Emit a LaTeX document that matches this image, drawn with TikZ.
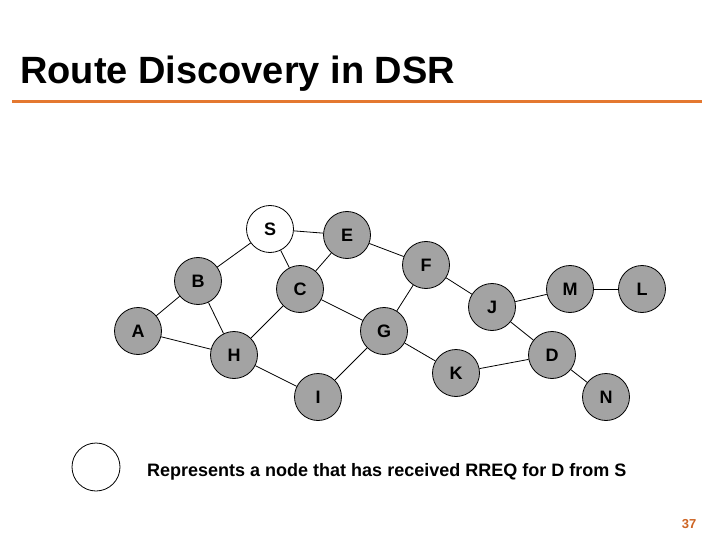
\documentclass[tikz,border=0pt]{standalone}
\usepackage{fontspec}
\setmainfont{Liberation Sans}
\usepackage{tikz}
\usetikzlibrary{positioning}
\definecolor{cnoeud}{gray}{0.64}
\definecolor{corange}{RGB}{228,120,48}
\definecolor{cpage}{RGB}{205,100,35}

\begin{document}
\begin{tikzpicture}[x=1pt, y=-1pt,
    nd/.style={circle, draw, line width=0.8pt, fill=cnoeud, minimum size=47pt, inner sep=0pt,
      font=\fontsize{18}{20}\selectfont\bfseries},
    vu/.style={nd, fill=white},
    lien/.style={line width=0.8pt}]
  \useasboundingbox (0,0) rectangle (720,540);

  % --- titre ---
  \node[font=\fontsize{38}{40}\selectfont\bfseries, anchor=base west, inner sep=0pt] (titre) at (20,84) {Route Discovery in DSR};
  \coordinate (r1) at (12,102);
  \coordinate (r2) at (702,102);
  \draw[corange, line width=3pt] (r1) -- (r2);

  % --- noeuds ---
  \node[vu] (S) at (270,229) {S};
  \node[nd] (E) at (347,235) {E};
  \node[nd] (B) at (198,281) {B};
  \node[nd] (C) at (300,289) {C};
  \node[nd] (F) at (426,265) {F};
  \node[nd] (A) at (138,331) {A};
  \node[nd] (H) at (234,355) {H};
  \node[nd] (G) at (384,331) {G};
  \node[nd] (K) at (456,373) {K};
  \node[nd] (I) at (318,397) {I};
  \node[nd] (J) at (492,307) {J};
  \node[nd] (M) at (570,289) {M};
  \node[nd] (L) at (642,289) {L};
  \node[nd] (D) at (552,355) {D};
  \node[nd] (N) at (606,397) {N};

  % --- liens ---
  \draw[lien] (S) -- (E);
  \draw[lien] (S) -- (B);
  \draw[lien] (S) -- (C);
  \draw[lien] (E) -- (C);
  \draw[lien] (E) -- (F);
  \draw[lien] (F) -- (J);
  \draw[lien] (F) -- (G);
  \draw[lien] (B) -- (A);
  \draw[lien] (B) -- (H);
  \draw[lien] (A) -- (H);
  \draw[lien] (C) -- (H);
  \draw[lien] (C) -- (G);
  \draw[lien] (G) -- (I);
  \draw[lien] (G) -- (K);
  \draw[lien] (H) -- (I);
  \draw[lien] (J) -- (M);
  \draw[lien] (M) -- (L);
  \draw[lien] (J) -- (D);
  \draw[lien] (K) -- (D);
  \draw[lien] (D) -- (N);

  % --- legende ---
  \node[vu, minimum size=48pt] (leg) at (96,467) {};
  \node[font=\fontsize{18}{20}\selectfont\bfseries, anchor=base west, inner sep=0pt] (txt) at (147,476)
    {Represents a node that has received RREQ for D from S};
  \node[font=\fontsize{13}{14}\selectfont\bfseries, text=cpage, inner sep=0pt] (page) at (689,524) {37};
\end{tikzpicture}
\end{document}
